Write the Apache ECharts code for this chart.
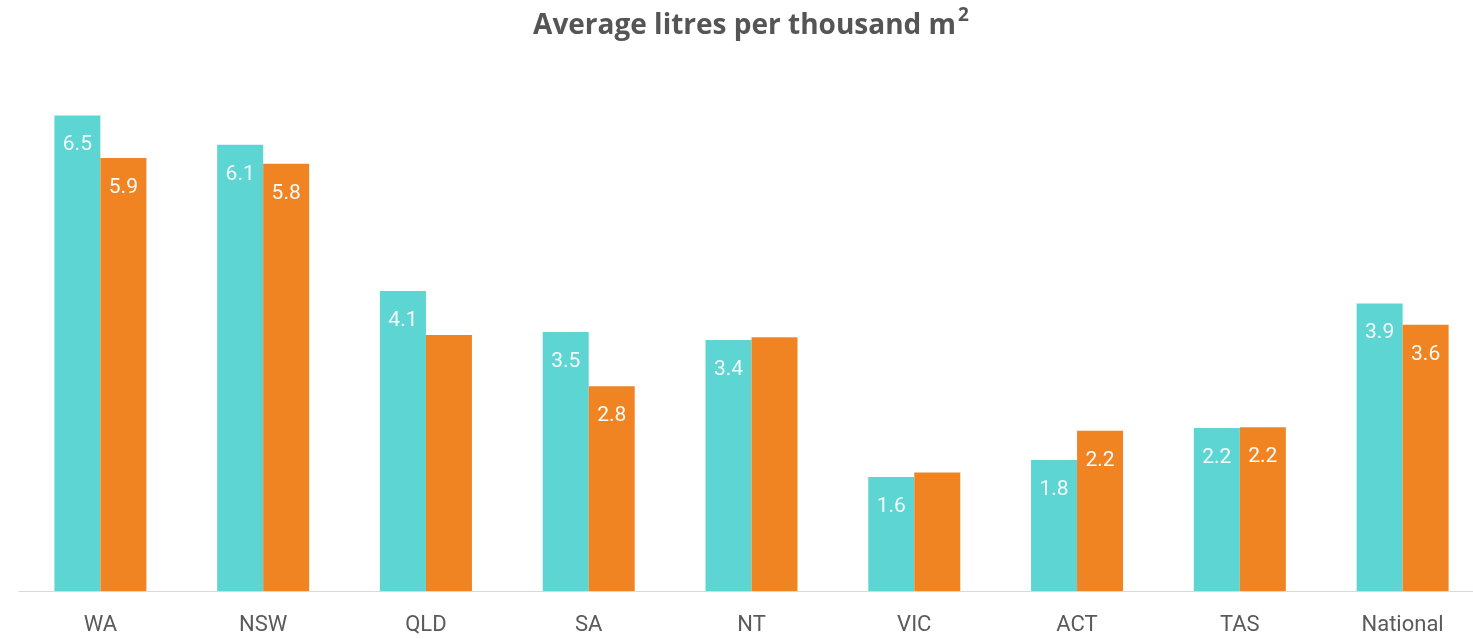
<!DOCTYPE html>
<html>
<head>
<meta charset="utf-8">
<script src="https://cdn.jsdelivr.net/npm/echarts@6/dist/echarts.min.js"></script>
<style>
html,body{margin:0;padding:0;background:#fff;overflow:hidden;}
#chart{width:1484px;height:639px;}
</style>
</head>
<body>
<div id="chart"></div>
<script>
const categories = ['WA','NSW','QLD','SA','NT','VIC','ACT','TAS','National'];
const tealValues = [6.5, 6.1, 4.1, 3.54, 3.43, 1.56, 1.79, 2.23, 3.93];
const orangeValues = [5.92, 5.84, 3.5, 2.8, 3.47, 1.62, 2.19, 2.24, 3.64];
const orangeUnlabelled = ['QLD','NT','VIC'];
const titleMain = 'Average litres per thousand m';
const titleSup = '2';

const chart = echarts.init(document.getElementById('chart'));
const labelStyle = {
  show: true,
  position: 'insideTop',
  distance: 19,
  color: '#f4fbfb',
  fontSize: 21,
  fontFamily: 'Roboto',
  formatter: p => Number(p.value).toFixed(1)
};
chart.setOption({
  animation: false,
  title: {
    text: '{t|' + titleMain + '}{s|' + titleSup + '}',
    left: 746,
    textAlign: 'center',
    top: 1,
    textStyle: {
      rich: {
        t: {color: '#555555', fontSize: 28, fontWeight: 'bold', fontFamily: 'Open Sans', lineHeight: 34, verticalAlign: 'bottom'},
        s: {color: '#555555', fontSize: 19, fontWeight: 'bold', fontFamily: 'Open Sans', lineHeight: 34, verticalAlign: 'top', padding: [0, 0, 0, 2]}
      }
    }
  },
  grid: {left: 19, right: 0, top: 79, bottom: 48},
  xAxis: {
    type: 'category',
    data: categories,
    axisLine: {lineStyle: {color: '#d9d9d9', width: 1}},
    axisTick: {show: false},
    axisLabel: {color: '#5a5a5a', fontSize: 22, fontFamily: 'Roboto', margin: 23}
  },
  yAxis: {
    type: 'value', min: 0, max: 7, show: false
  },
  series: [
    {
      type: 'bar',
      data: tealValues,
      barWidth: 46,
      barGap: '0%',
      itemStyle: {color: '#5dd5d3'},
      label: labelStyle
    },
    {
      type: 'bar',
      data: orangeValues.map((v, i) => ({
        value: v,
        label: {show: !orangeUnlabelled.includes(categories[i])}
      })),
      barWidth: 46,
      barGap: '0%',
      itemStyle: {color: '#f08423'},
      label: labelStyle
    }
  ]
});
</script>
</body>
</html>
